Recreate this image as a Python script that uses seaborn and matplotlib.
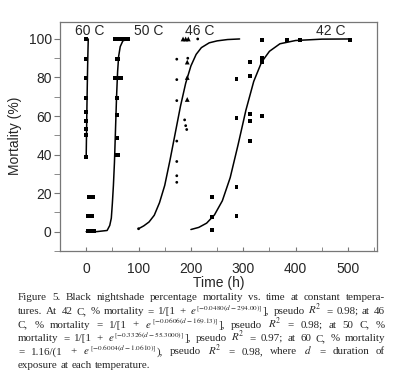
import re
import numpy as np
import pandas as pd
import matplotlib
matplotlib.use('Agg')
import matplotlib.pyplot as plt
import seaborn as sns

t60 = [0, 0, 0, 0, 0, 0, 0, 0, 0]
m60 = [100, 89.5, 79.7, 69.4, 62.2, 57.4, 53.1, 50, 38.5]

t50 = [3, 7, 11, 15, 3, 7, 11, 5, 9, 13,
       55, 58, 62, 66, 70, 75, 79, 58, 61, 55, 59, 63, 67, 59, 59, 59, 59, 61]
m50 = [0.5, 0.5, 0.5, 0.5, 7.9, 7.9, 7.9, 17.9, 17.9, 17.9,
       100, 100, 100, 100, 100, 100, 100, 89.5, 89.5, 79.7, 79.7, 79.7, 79.7,
       69.4, 60.5, 48.8, 39.8, 39.8]

t46_dot = [173, 173, 173, 173, 173, 173, 173, 194, 188, 190, 192, 213, 100]
m46_dot = [89.5, 78.9, 68, 47, 36.4, 29, 25.6, 90, 58, 55, 53, 100, 1.5]
t46_tri = [193, 193, 193, 185, 190, 195]
m46_tri = [88, 80, 68.6, 100, 100, 100]

t42 = [241, 241, 241, 287, 287, 287, 287, 312, 312, 312, 312, 312,
       336, 336, 336, 336, 383, 408, 504]
m42 = [17.9, 7.6, 1, 79.4, 59, 23, 7.9, 88, 80.6, 61, 57.4, 47,
       99.5, 90, 88, 60, 99.5, 99.5, 99.5]

# fitted curves
c60_t = [0, 0.5, 1, 1.5, 2, 2.5, 3, 3.5, 4]
c60_m = [38.5, 48, 57, 66, 74, 82, 89, 95, 100]
c50_t = [0, 20, 40, 45, 48, 50, 52, 54, 56, 58, 60, 62, 65, 70, 80]
c50_m = [0, 0, 0.6, 3.2, 7, 14.7, 24, 36, 53, 70, 83, 91, 96, 99, 100]
c46_t = [100, 110, 120, 130, 140, 150, 160, 170, 180, 190, 200, 210, 220, 235, 250, 270, 293]
c46_m = [1.5, 3, 5, 8.5, 15, 24, 37, 51, 65, 77, 86, 92, 95.5, 98, 99, 99.7, 100]
c42_t = [200, 215, 230, 245, 260, 275, 290, 305, 320, 335, 350, 370, 400, 450, 505]
c42_m = [1.1, 2.2, 4.4, 8.7, 16, 28, 45, 63, 78, 88, 93.6, 97.5, 99.2, 99.9, 100]

labels = ['60 C', '50 C', '46 C', '42 C']
label_t = [6, 120, 217, 467]

# caption; '§' marks where the exponent of e goes
cap = [
    r'Figure 5. Black nightshade percentage mortality vs. time at constant tempera-',
    r'tures. At 42 C, % mortality = 1/[1 + $e$§], pseudo $R^2$ = 0.98; at 46',
    r'C, % mortality = 1/[1 + $e$§], pseudo $R^2$ = 0.98; at 50 C, %',
    r'mortality = 1/[1 + $e$§], pseudo $R^2$ = 0.97; at 60 C, % mortality',
    r'= 1.16/(1 + $e$§), pseudo $R^2$ = 0.98, where $d$ = duration of',
    r'exposure at each temperature.',
]
cap_exp = [None,
           r'$[-0.0480(d-294.00)]$',
           r'$[-0.0606(d-169.13)]$',
           r'$[-0.3326(d-55.3000)]$',
           r'$[-0.6004(d-1.0610)]$',
           None]
cap_y = [300, 314, 327.5, 341, 354.5, 368]

sns.set_style('ticks')
plt.rcParams['font.family'] = ['Liberation Sans', 'DejaVu Sans']
plt.rcParams['mathtext.fontset'] = 'stix'

fig = plt.figure(figsize=(4, 3.86), dpi=100)
ax = fig.add_axes([0.15, 0.35, 0.792, 0.594])

for ct, cm in [(c60_t, c60_m), (c50_t, c50_m), (c46_t, c46_m), (c42_t, c42_m)]:
    sns.lineplot(x=ct, y=cm, ax=ax, color='black', lw=1.1, sort=False, estimator=None)

sq = dict(marker='s', s=8, color='black', edgecolor='none', ax=ax)
sns.scatterplot(x=t60, y=m60, **sq)
sns.scatterplot(x=t50, y=m50, **sq)
sns.scatterplot(x=t42, y=m42, **sq)
sns.scatterplot(x=t46_dot, y=m46_dot, marker='o', s=4, color='black', edgecolor='none', ax=ax)
sns.scatterplot(x=t46_tri, y=m46_tri, marker='^', s=12, color='black', edgecolor='none', ax=ax)

for lab, lt in zip(labels, label_t):
    ax.text(lt, 104, lab, ha='center', va='center', fontsize=10)

ax.set_xlim(-50, 555)
ax.set_ylim(-10, 109)
ax.set_xticks([0, 100, 200, 300, 400, 500])
ax.set_xticks(np.arange(-50, 551, 50), minor=True)
ax.set_yticks([0, 20, 40, 60, 80, 100])
ax.set_yticks(np.arange(-10, 101, 10), minor=True)
ax.tick_params(axis='x', which='both', direction='in', length=3, color='#777777', labelsize=10, pad=8)
ax.tick_params(axis='y', which='both', direction='out', length=4, color='#777777', labelsize=10, pad=2)
for sp in ax.spines.values():
    sp.set_color('#777777')
    sp.set_linewidth(0.9)
ax.set_xlabel('Time (h)', fontsize=10, labelpad=0)
ax.set_ylabel('Mortality (%)', fontsize=10, labelpad=5)

# caption, justified word by word between x=18 and x=385 px
fig.canvas.draw()
rend = fig.canvas.get_renderer()
serif = ['Liberation Serif', 'DejaVu Serif']
x0, x1 = 18, 385
for i, (line, yy) in enumerate(zip(cap, cap_y)):
    base = 1 - yy / 386
    words = re.findall(r'(?:\$[^$]*\$|[^\s$])+', line)
    groups = []
    for w in words:
        pieces = []
        for k, part in enumerate(w.split('§')):
            if k > 0:
                pieces.append(fig.text(0, base + 4 / 386, cap_exp[i], ha='left', va='baseline',
                                       fontsize=5.2, family=serif))
            if part:
                pieces.append(fig.text(0, base, part, ha='left', va='baseline',
                                       fontsize=7.9, family=serif))
        groups.append([(p, p.get_window_extent(rend).width) for p in pieces])
    widths = [sum(pw for _, pw in g) for g in groups]
    if i < len(cap) - 1 and len(words) > 1:
        gap = (x1 - x0 - sum(widths)) / (len(words) - 1)
    else:
        gap = 3
    xx = x0
    for g, w in zip(groups, widths):
        px = xx
        for p, pw in g:
            p.set_x(px / 400)
            px += pw
        xx += w + gap

fig.savefig('out.png', dpi=100, facecolor='white')
